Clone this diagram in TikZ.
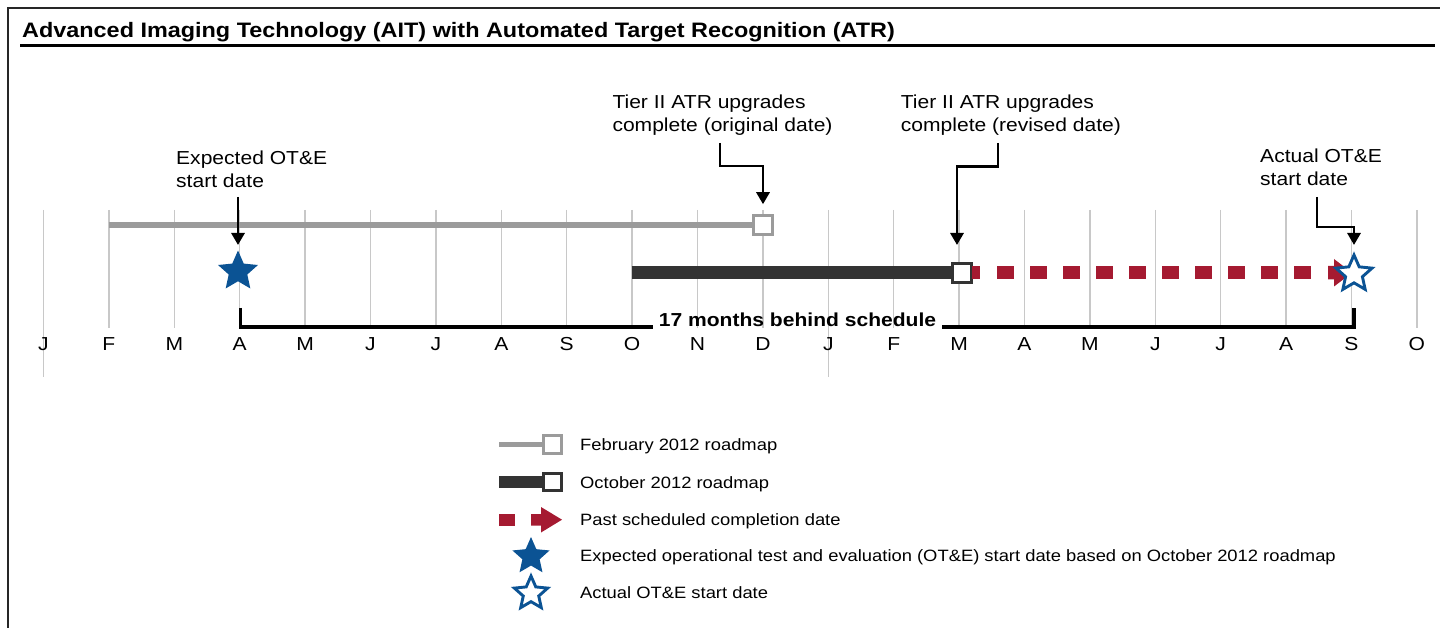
\documentclass[tikz,border=0pt]{standalone}
\usepackage{fontspec}
\setmainfont{Liberation Sans}[FakeStretch=1.12]
\usetikzlibrary{shapes.geometric,arrows.meta}
\definecolor{gtrack}{HTML}{9B9B9B}
\definecolor{dtrack}{HTML}{333333}
\definecolor{pastred}{HTML}{A51A31}
\definecolor{starblue}{HTML}{0B5394}
\definecolor{gridc}{HTML}{C8C8C8}
\tikzset{
  gridln/.style={draw=gridc, line width=1.3pt},
  month/.style={anchor=base, inner sep=0pt, font=\fontsize{18.8}{23.4}\selectfont},
  callout/.style={anchor=base west, inner sep=0pt, align=left, font=\fontsize{18.8}{23.4}\selectfont},
  legtext/.style={anchor=base west, inner sep=0pt, font=\fontsize{16.4}{20}\selectfont},
  callarrow/.style={draw=black, line width=2.9pt, -{Triangle[width=13pt,length=12pt]}},
  bracketln/.style={draw=black, line width=3.2pt},
  endbox/.style={rectangle, minimum size=18.5pt, inner sep=0pt, fill=white, line width=3pt},
  fullstar/.style={star, star points=5, star point ratio=2.15, inner sep=0pt, fill=starblue, draw=none},
  openstar/.style={star, star points=5, star point ratio=2.15, inner sep=0pt, fill=white, draw=starblue, line width=2.9pt},
}
\begin{document}
\begin{tikzpicture}[x=1pt,y=-1pt]
\useasboundingbox (0,0) rectangle (1440,628);
% frame
\draw[line width=1.4pt, black!85] (8,628) -- (8,8) -- (1440,8);
% title
\node[anchor=base west, inner sep=0pt, font=\fontsize{20.9}{25}\selectfont\bfseries] (title) at (22,37.7) {Advanced Imaging Technology (AIT) with Automated Target Recognition (ATR)};
\draw[line width=3.2pt] (20,45.5) -- (1435,45.5);
% grid lines and month labels
\foreach \m [count=\i from 0] in {J,F,M,A,M,J,J,A,S,O,N,D,J,F,M,A,M,J,J,A,S,O} {
  \pgfmathsetmacro{\xx}{43.5+65.4*\i}
  \ifnum\i=0 \draw[gridln] (\xx,210) -- (\xx,377);
  \else\ifnum\i=12 \draw[gridln] (\xx,210) -- (\xx,377);
  \else \draw[gridln] (\xx,210) -- (\xx,328);
  \fi\fi
  \node[month] (m\i) at (\xx,350.7) {\m};
}
% February 2012 roadmap (gray)
\node[endbox, draw=gtrack] (sq1) at (763,225) {};
\draw[gtrack, line width=5.2pt] (108.5,225) -- (sq1.west);
\node[endbox, draw=gtrack] at (763,225) {};
% October 2012 roadmap (dark)
\node[endbox, draw=dtrack] (sq2) at (962,272.8) {};
\draw[dtrack, line width=12.8pt] (631.7,272.8) -- (sq2.west);
\node[endbox, draw=dtrack] at (962,272.8) {};
% past scheduled completion
\fill[pastred] (971.5,266) rectangle (980,279.5);
\foreach \k in {0,...,9} {
  \fill[pastred] ({997+33*\k},266) rectangle ({1013.5+33*\k},279.5);
}
\fill[pastred] (1328,266) -- (1334,266) -- (1334,259) -- (1352,272.8) -- (1334,286.5) -- (1334,279.5) -- (1328,279.5) -- cycle;
% stars
\node[fullstar, minimum size=42pt] (s1) at (238,271.5) {};
\node[openstar, minimum size=38pt] (s2) at (1354,274) {};
% callouts
\node[callout] (c1) at (176,187.5) {Expected OT\&E\\start date};
\node[callout] (c2) at (612.3,131.7) {Tier II ATR upgrades\\complete (original date)};
\node[callout] (c3) at (900.7,131.7) {Tier II ATR upgrades\\complete (revised date)};
\node[callout] (c4) at (1260,185.7) {Actual OT\&E\\start date};
\coordinate (a1) at (238,197);
\coordinate (t1) at (238,245);
\draw[callarrow] (a1) -- (t1);
\coordinate (a2) at (720,143);
\draw[callarrow, shorten >=10pt] (a2) -- (720,166) -| (sq1.north);
\coordinate (a3) at (998,143);
\coordinate (t3) at (957,245);
\draw[callarrow] (a3) -- (998,166.5) -| (t3);
\coordinate (a4) at (1317,197);
\coordinate (t4) at (1354,245);
\draw[callarrow] (a4) -- (1317,227) -| (t4);
% bracket
\node[anchor=base, inner sep=0pt, font=\fontsize{18.8}{23}\selectfont\bfseries] (bt) at (797.5,326.3) {17 months behind schedule};
\coordinate (b1) at (240.5,308);
\coordinate (bl) at (240.5,327);
\coordinate (b2) at (1354,308);
\coordinate (br) at (1354,327);
\draw[bracketln] (b1) -- (bl) -- ([xshift=-6pt]bl -| bt.west);
\draw[bracketln] ([xshift=6pt]br -| bt.east) -- (br) -- (b2);
% legend
\node[endbox, draw=gtrack, minimum size=17.5pt] (lg1) at (552.5,444.5) {};
\draw[gtrack, line width=5pt] (499,444.5) -- (lg1.west);
\node[endbox, draw=gtrack, minimum size=17.5pt] at (552.5,444.5) {};
\node[endbox, draw=dtrack, minimum size=17.5pt] (lg2) at (552.5,482) {};
\draw[dtrack, line width=11.5pt] (499,482) -- (lg2.west);
\node[endbox, draw=dtrack, minimum size=17.5pt] at (552.5,482) {};
\fill[pastred] (499,514) rectangle (515,525.5);
\fill[pastred] (531,514) -- (541,514) -- (541,507) -- (562,519.7) -- (541,532.5) -- (541,525.5) -- (531,525.5) -- cycle;
\node[fullstar, minimum size=39pt] (lg4) at (531,556.5) {};
\node[openstar, minimum size=35pt] (lg5) at (531,593.5) {};
\node[legtext] (l1) at (580,450.7) {February 2012 roadmap};
\node[legtext] (l2) at (580,488.3) {October 2012 roadmap};
\node[legtext] (l3) at (580,525) {Past scheduled completion date};
\node[legtext] (l4) at (580,561.7) {Expected operational test and evaluation (OT\&E) start date based on October 2012 roadmap};
\node[legtext] (l5) at (580,598.3) {Actual OT\&E start date};
\end{tikzpicture}
\end{document}
